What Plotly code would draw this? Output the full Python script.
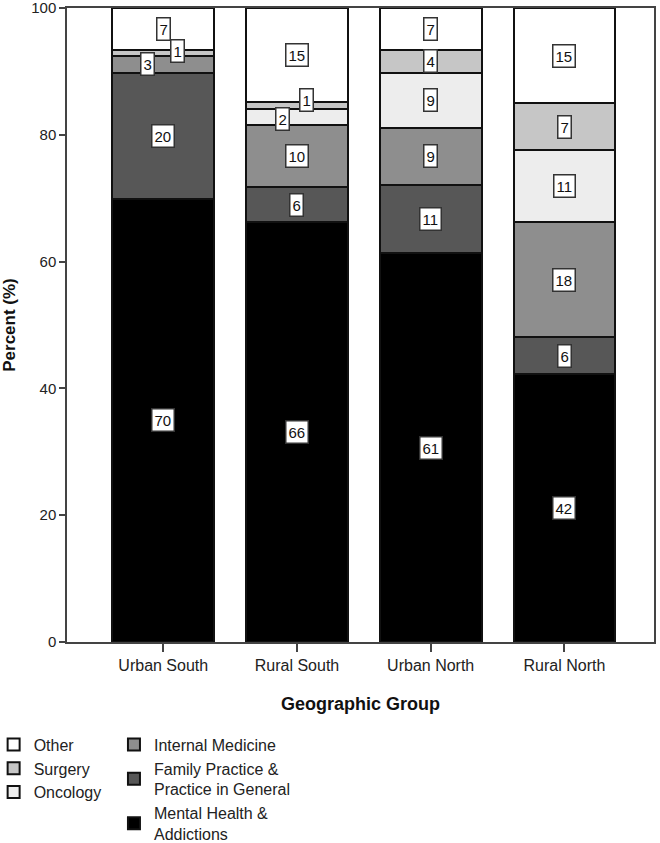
import plotly.graph_objects as go

groups = ["Urban South", "Rural South", "Urban North", "Rural North"]
mental = [69.9, 66.2, 61.3, 42.2]
family = [19.9, 5.6, 10.8, 5.9]
internal = [2.6, 9.8, 9.0, 18.1]
oncology = [0.0, 2.4, 8.7, 11.4]
surgery = [1.0, 1.2, 3.6, 7.4]
other = [6.6, 14.8, 6.6, 15.0]

series = [
    ("Mental Health &<br>Addictions", mental, "#000000", "legend2"),
    ("Family Practice &<br>Practice in General", family, "#575757", "legend2"),
    ("Internal Medicine", internal, "#8e8e8e", "legend2"),
    ("Oncology", oncology, "#ededed", "legend"),
    ("Surgery", surgery, "#c6c6c6", "legend"),
    ("Other", other, "#ffffff", "legend"),
]

FONT = "Liberation Sans, Arial, sans-serif"

fig = go.Figure()
for name, vals, col, lg in series:
    fig.add_trace(go.Bar(
        x=groups, y=vals, name=name, legend=lg,
        marker=dict(color=col, line=dict(color="#111111", width=2)),
        width=0.76,
    ))

# label shifts (px) for crowded small segments
shifts = {
    ("Internal Medicine", "Urban South"): (-16, 0),
    ("Surgery", "Urban South"): (14, 2),
    ("Oncology", "Rural South"): (-14, -2),
    ("Surgery", "Rural South"): (10, 6),
}

annotations = []
base = [0.0] * len(groups)
for name, vals, col, lg in series:
    for i, g in enumerate(groups):
        v = vals[i]
        mid = base[i] + v / 2
        if v >= 0.5:
            dx, dy = shifts.get((name, g), (0, 0))
            annotations.append(dict(
                x=g, y=mid, xref="x", yref="y", text=f"{v:.0f}",
                showarrow=False, xshift=dx, yshift=dy,
                font=dict(family=FONT, size=15, color="#111111"),
                bgcolor="#ffffff", bordercolor="#333333", borderwidth=1.5, borderpad=2,
            ))
        base[i] += v

fig.update_layout(
    barmode="stack",
    width=660, height=843,
    margin=dict(l=67, r=6, t=8, b=201, autoexpand=False),
    plot_bgcolor="#ffffff", paper_bgcolor="#ffffff",
    font=dict(family=FONT, size=15, color="#222222"),
    annotations=annotations,
    legend=dict(x=-0.125, y=-0.135, xanchor="left", yanchor="top", traceorder="reversed",
                font=dict(family=FONT, size=16, color="#222222"), tracegroupgap=0,
                itemwidth=30, bgcolor="rgba(0,0,0,0)"),
    legend2=dict(x=0.08, y=-0.135, xanchor="left", yanchor="top", traceorder="reversed",
                 font=dict(family=FONT, size=16, color="#222222"), tracegroupgap=0,
                 itemwidth=30, bgcolor="rgba(0,0,0,0)"),
    xaxis=dict(
        range=[-0.72, 3.67], showline=True, linecolor="#444444", linewidth=1.5, mirror=True,
        ticks="outside", ticklen=8, tickcolor="#444444", tickwidth=1.5, automargin=False,
        tickfont=dict(family=FONT, size=16, color="#222222"),
        title=dict(text="<b>Geographic Group</b>", font=dict(family=FONT, size=18, color="#111111"), standoff=24),
    ),
    yaxis=dict(
        range=[0, 100], dtick=20, showline=True, linecolor="#444444", linewidth=1.5, mirror=True,
        showgrid=False, zeroline=False, automargin=False, ticklabeloverflow="allow",
        ticks="outside", ticklen=6, tickcolor="#444444", tickwidth=1.5,
        tickfont=dict(family=FONT, size=15, color="#222222"),
        title=dict(text="<b>Percent (%)</b>", font=dict(family=FONT, size=17, color="#111111"), standoff=14),
    ),
)

fig.write_html("out.html", config={"displayModeBar": False},
               post_script="document.body.style.margin='0';")
